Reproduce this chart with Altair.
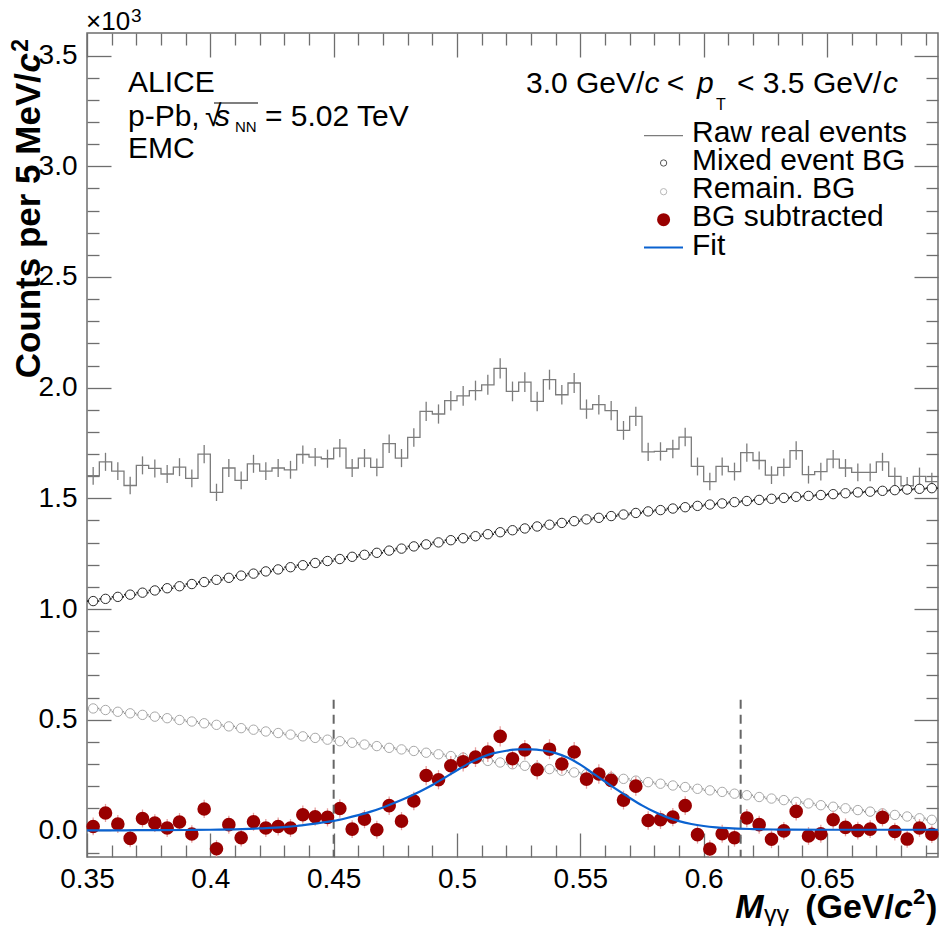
import numpy as np
import pandas as pd
import altair as alt

FONT = "Liberation Sans"
FRAME = "#6e6e6e"
RAW_GREY = "#7c7c7c"
FIT_BLUE = "#0a62d0"
W, H = 851, 824
X_DOMAIN = [0.35, 0.695]
Y_DOMAIN = [-0.12, 3.602]

# 5 MeV/c^2 bins starting at 0.35 GeV/c^2, counts in units of 10^3
BIN_LOW = 0.35
BIN_WIDTH = 0.005

raw_events = [
    1.602, 1.665, 1.623, 1.558, 1.649, 1.635, 1.610, 1.641, 1.590, 1.700,
    1.527, 1.637, 1.581, 1.656, 1.623, 1.637, 1.629, 1.698, 1.686, 1.679,
    1.727, 1.637, 1.682, 1.640, 1.747, 1.682, 1.775, 1.893, 1.881, 1.941,
    1.963, 1.987, 2.013, 2.087, 1.983, 2.025, 1.938, 2.036, 1.968, 2.021,
    1.903, 1.923, 1.896, 1.807, 1.870, 1.710, 1.712, 1.723, 1.777, 1.644,
    1.576, 1.644, 1.621, 1.707, 1.671, 1.605, 1.640, 1.716, 1.607, 1.621,
    1.677, 1.637, 1.617, 1.617, 1.665, 1.599, 1.557, 1.599, 1.576,
]
mixed_bg = [
    1.036, 1.046, 1.055, 1.065, 1.074, 1.084, 1.094, 1.103, 1.113, 1.122,
    1.132, 1.141, 1.151, 1.160, 1.170, 1.179, 1.189, 1.198, 1.208, 1.217,
    1.226, 1.236, 1.245, 1.254, 1.264, 1.273, 1.283, 1.292, 1.301, 1.311,
    1.320, 1.329, 1.338, 1.347, 1.356, 1.364, 1.373, 1.381, 1.389, 1.397,
    1.405, 1.412, 1.420, 1.427, 1.434, 1.441, 1.447, 1.454, 1.460, 1.466,
    1.472, 1.477, 1.483, 1.488, 1.493, 1.498, 1.502, 1.507, 1.511, 1.515,
    1.519, 1.523, 1.527, 1.530, 1.534, 1.537, 1.540, 1.543, 1.546,
]
remain_bg = [
    0.551, 0.544, 0.536, 0.529, 0.522, 0.514, 0.507, 0.499, 0.492, 0.484,
    0.477, 0.470, 0.462, 0.455, 0.447, 0.440, 0.433, 0.425, 0.418, 0.410,
    0.403, 0.396, 0.388, 0.381, 0.373, 0.366, 0.359, 0.351, 0.344, 0.336,
    0.329, 0.322, 0.314, 0.307, 0.299, 0.292, 0.285, 0.277, 0.270, 0.262,
    0.255, 0.248, 0.240, 0.233, 0.225, 0.218, 0.211, 0.203, 0.196, 0.188,
    0.181, 0.174, 0.166, 0.159, 0.151, 0.144, 0.137, 0.129, 0.122, 0.114,
    0.107, 0.100, 0.092, 0.085, 0.077, 0.070, 0.063, 0.055, 0.048,
]
bg_subtracted = [
    0.018, 0.079, 0.029, -0.036, 0.054, 0.033, 0.011, 0.038, -0.016, 0.097,
    -0.083, 0.026, -0.033, 0.039, 0.011, 0.018, 0.011, 0.071, 0.062, 0.059,
    0.099, 0.006, 0.051, 0.003, 0.112, 0.042, 0.133, 0.248, 0.229, 0.292,
    0.310, 0.331, 0.354, 0.425, 0.324, 0.364, 0.274, 0.367, 0.300, 0.354,
    0.232, 0.255, 0.226, 0.137, 0.200, 0.045, 0.048, 0.060, 0.112, -0.019,
    -0.084, -0.015, -0.033, 0.056, 0.026, -0.040, -0.002, 0.086, -0.025, -0.015,
    0.048, 0.014, -0.001, 0.006, 0.059, -0.005, -0.039, 0.011, -0.017,
]

fit_mass = [
    0.350, 0.360, 0.370, 0.380, 0.390, 0.400, 0.410, 0.420, 0.430, 0.435,
    0.440, 0.445, 0.450, 0.455, 0.460, 0.465, 0.470, 0.475, 0.480, 0.485,
    0.490, 0.495, 0.500, 0.505, 0.510, 0.515, 0.520, 0.525, 0.530, 0.535,
    0.540, 0.545, 0.550, 0.555, 0.560, 0.565, 0.570, 0.575, 0.580, 0.585,
    0.590, 0.595, 0.600, 0.605, 0.610, 0.620, 0.630, 0.650, 0.670, 0.695,
]
fit_counts = [
    0.000, 0.000, 0.001, 0.001, 0.002, 0.003, 0.005, 0.009, 0.015, 0.020,
    0.027, 0.035, 0.043, 0.055, 0.069, 0.085, 0.104, 0.126, 0.150, 0.176,
    0.205, 0.238, 0.272, 0.304, 0.330, 0.349, 0.360, 0.366, 0.366, 0.361,
    0.349, 0.328, 0.297, 0.259, 0.221, 0.183, 0.147, 0.113, 0.084, 0.060,
    0.042, 0.029, 0.020, 0.014, 0.010, 0.006, 0.004, 0.003, 0.003, 0.003,
]

# integration window
window_edges = [0.45, 0.615]
window_top = 0.59

x_major = [0.35, 0.4, 0.45, 0.5, 0.55, 0.6, 0.65]
x_minor = [0.36, 0.37, 0.38, 0.39, 0.41, 0.42, 0.43, 0.44, 0.46, 0.47, 0.48, 0.49,
           0.51, 0.52, 0.53, 0.54, 0.56, 0.57, 0.58, 0.59, 0.61, 0.62, 0.63, 0.64,
           0.66, 0.67, 0.68, 0.69]
y_major = [0.0, 0.5, 1.0, 1.5, 2.0, 2.5, 3.0, 3.5]
y_minor = [-0.1, 0.1, 0.2, 0.3, 0.4, 0.6, 0.7, 0.8, 0.9, 1.1, 1.2, 1.3, 1.4,
           1.6, 1.7, 1.8, 1.9, 2.1, 2.2, 2.3, 2.4, 2.6, 2.7, 2.8, 2.9,
           3.1, 3.2, 3.3, 3.4]

# tables
lo = BIN_LOW + BIN_WIDTH * np.arange(len(raw_events))
bins = pd.DataFrame({
    "lo": lo, "hi": lo + BIN_WIDTH, "m": lo + BIN_WIDTH / 2,
    "raw": raw_events, "mixed": mixed_bg, "remain": remain_bg, "sub": bg_subtracted,
})
err = np.sqrt(bins["raw"] * 1000) / 1000
bins["raw_lo"] = bins["raw"] - err
bins["raw_hi"] = bins["raw"] + err
bins["sub_lo"] = bins["sub"] - err
bins["sub_hi"] = bins["sub"] + err

steps = pd.DataFrame({"edge": list(lo) + [lo[-1] + BIN_WIDTH],
                      "raw": raw_events + [raw_events[-1]]})
fit = pd.DataFrame({"mass": fit_mass, "counts": fit_counts})
window = pd.DataFrame({"mass": window_edges, "top": window_top, "bottom": Y_DOMAIN[0]})
one = pd.DataFrame({"k": [0]})

x_scale = alt.Scale(domain=X_DOMAIN, nice=False, zero=False)
y_scale = alt.Scale(domain=Y_DOMAIN, nice=False, zero=False)


def X(field, axis=None):
    return alt.X(f"{field}:Q", scale=x_scale, axis=axis)


def Y(field, axis=None):
    return alt.Y(f"{field}:Q", scale=y_scale, axis=axis)


def ticks(orient, values, size, offset):
    # ROOT-like inward ticks: an axis pushed to the opposite edge
    return alt.Axis(orient=orient, values=values, labels=False, domain=False, grid=False,
                    title=None, ticks=True, tickSize=size, tickColor=FRAME, tickWidth=1.3,
                    offset=offset)


x_labels = alt.Axis(orient="bottom", values=x_major, labelExpr="format(datum.value, '.2~f')",
                    ticks=False, domain=False, grid=False, title=None, labelFontSize=28,
                    labelPadding=8, labelFlush=False, labelFont=FONT, labelColor="black")
y_labels = alt.Axis(orient="left", values=y_major, format=".1f", ticks=False, domain=False,
                    grid=False, title=None, labelFontSize=28, labelPadding=10,
                    labelFlush=False, labelFont=FONT, labelColor="black")


def note(text, x, y, size=30, align="left", weight="normal", style="normal", angle=0):
    return alt.Chart(one).mark_text(
        text=text, align=align, baseline="alphabetic", font=FONT, fontSize=size,
        fontWeight=weight, fontStyle=style, angle=angle, color="black",
    ).encode(x=alt.value(x), y=alt.value(y))


base = alt.Chart(bins)

raw_line = alt.Chart(steps).mark_line(interpolate="step-after", color=RAW_GREY, strokeWidth=1.3).encode(
    x=X("edge", x_labels), y=Y("raw", y_labels))
raw_err = base.mark_rule(color=RAW_GREY, strokeWidth=1.3).encode(
    x=X("m", ticks("top", x_major, 24, -H)), y=Y("raw_lo", ticks("right", y_major, 24, -W)), y2="raw_hi")
mixed_bar = base.mark_rule(color="#1e1e1e", strokeWidth=1.6).encode(
    x=X("lo", ticks("top", x_minor, 12, -H)), x2="hi", y=Y("mixed", ticks("right", y_minor, 12, -W)))
mixed_pts = base.mark_circle(size=88, fill="white", stroke="#2a2a2a", strokeWidth=1, opacity=1).encode(
    x=X("m"), y=Y("mixed"))
remain_bar = base.mark_rule(color="#8c8c8c", strokeWidth=1.3).encode(
    x=X("lo", ticks("bottom", x_major, 24, -H)), x2="hi", y=Y("remain", ticks("left", y_major, 24, -W)))
remain_pts = base.mark_circle(size=88, fill="white", stroke="#a8a8a8", strokeWidth=1, opacity=1).encode(
    x=X("m", ticks("bottom", x_minor, 12, -H)), y=Y("remain", ticks("left", y_minor, 12, -W)))
sub_err = base.mark_rule(color="#e6a0a0", strokeWidth=1.3, clip=True).encode(
    x=X("m"), y=Y("sub_lo"), y2="sub_hi")
sub_pts = base.mark_circle(size=185, color="#990000", opacity=1).encode(x=X("m"), y=Y("sub"))
window_lines = alt.Chart(window).mark_rule(color="#666666", strokeWidth=2, strokeDash=[9, 6]).encode(
    x=X("mass"), y=Y("top"), y2="bottom")
fit_line = alt.Chart(fit).mark_line(color=FIT_BLUE, strokeWidth=2.2, interpolate="monotone").encode(
    x=X("mass"), y=Y("counts"))

# texts, plot-area pixel coordinates
texts = [
    note("×10", -1, -3, size=26),
    note("3", 44, -11, size=19),
    note("ALICE", 41, 59),
    note("p-Pb, ", 41, 93),
    note("√", 118, 93),
    note("s", 128, 93, style="italic"),
    note("NN", 148, 99, size=15),
    note("= 5.02 TeV", 178, 93),
    note("EMC", 41, 125),
    note("3.0 GeV/", 439, 60),
    note("c", 557.5, 60, style="italic"),
    note("<", 588.5, 60, align="center"),
    note("p", 610, 60, style="italic"),
    note("T", 629, 77, size=16),
    note("< 3.5 GeV/", 650, 60),
    note("c", 796, 60, style="italic"),
    note("Raw real events", 605, 108.5),
    note("Mixed event BG", 605, 136.8),
    note("Remain. BG", 605, 165),
    note("BG subtracted", 605, 193.4),
    note("Fit", 605, 221.7),
    # rotated title, anchored from its top end
    note("2", -59, 6, size=23, weight="bold", angle=270, align="right"),
    note("c", -47, 20, size=35, weight="bold", style="italic", angle=270, align="right"),
    note("Counts per 5 MeV/", -47, 40, size=35, weight="bold", angle=270, align="right"),
    note("M", 648.3, 885, size=34, weight="bold", style="italic"),
    note("γγ", 677, 890, size=25),
    note("(GeV/", 807, 885, size=34, weight="bold", align="right"),
    note("c", 807, 885, size=34, weight="bold", style="italic"),
    note("2", 826, 871, size=22, weight="bold"),
    note(")", 850.3, 885, size=34, weight="bold", align="right"),
]
sqrt_bar = alt.Chart(one).mark_rule(color="black", strokeWidth=1.2).encode(
    x=alt.value(127), x2=alt.value(171), y=alt.value(70))

legend = [
    alt.Chart(one).mark_rule(color=RAW_GREY, strokeWidth=1.3).encode(
        x=alt.value(557), x2=alt.value(596), y=alt.value(102.7)),
    alt.Chart(one).mark_circle(size=40, fill="white", stroke="#555555", strokeWidth=1, opacity=1).encode(
        x=alt.value(576.6), y=alt.value(130)),
    alt.Chart(one).mark_circle(size=40, fill="white", stroke="#b8b8b8", strokeWidth=1, opacity=1).encode(
        x=alt.value(576.6), y=alt.value(158.7)),
    alt.Chart(one).mark_circle(size=170, color="#990000", opacity=1).encode(
        x=alt.value(576.6), y=alt.value(186.7)),
    alt.Chart(one).mark_rule(color=FIT_BLUE, strokeWidth=2).encode(
        x=alt.value(557), x2=alt.value(596), y=alt.value(214.4)),
]

chart = alt.layer(
    raw_line, raw_err, mixed_bar, mixed_pts, remain_bar, remain_pts,
    sub_err, sub_pts, window_lines, fit_line, sqrt_bar, *legend, *texts,
).resolve_axis(
    x="independent", y="independent"
).properties(
    width=W, height=H,
    autosize=alt.AutoSizeParams(type="none"),
    padding={"left": 79, "top": 25, "right": 4, "bottom": 69},
).configure_view(stroke=FRAME, strokeWidth=1.5)

chart.save("out.html", embed_options={"renderer": "svg", "actions": False})
